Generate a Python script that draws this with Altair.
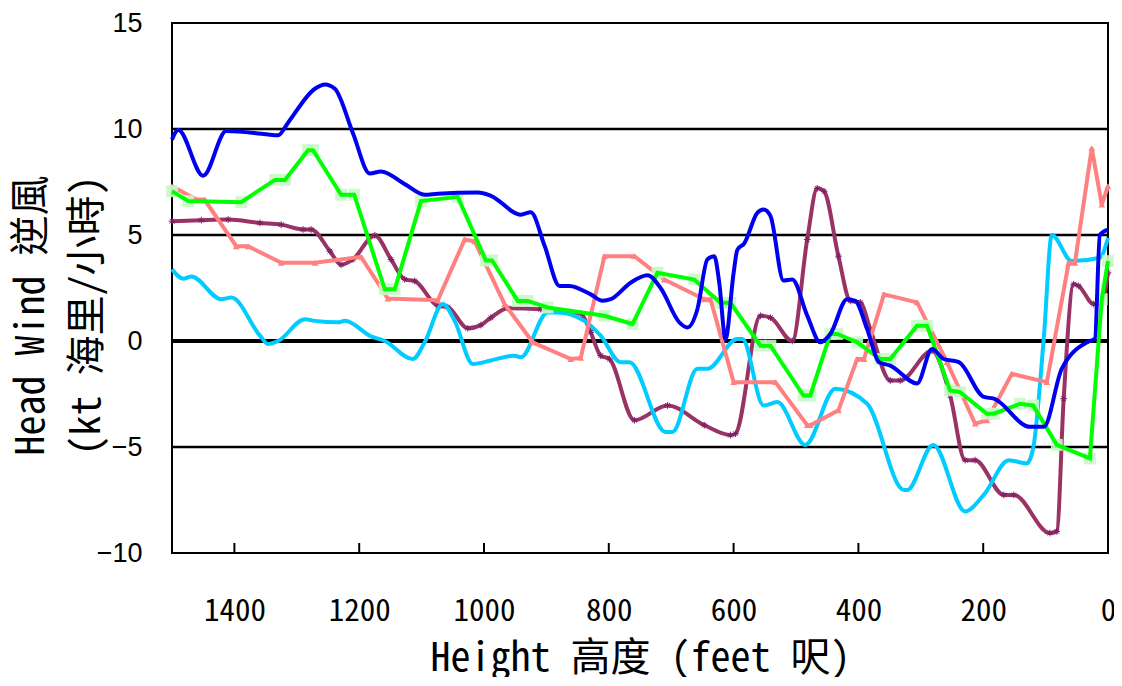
import altair as alt
import pandas as pd

# ---------------- data ----------------
blue_ft = [1500, 1490, 1450, 1413, 1349, 1330, 1314, 1271, 1255, 1239, 1210, 1183, 1165, 1127,
           1095, 1074, 1010, 989, 941, 925, 903, 879, 863, 829, 810, 797, 765, 738, 717, 687,
           674, 658, 642, 631, 623, 613, 600, 594, 583, 562, 552, 541, 520, 506, 482, 461, 445,
           418, 405, 386, 367, 349, 306, 282, 263, 239, 199, 183, 125, 103, 74, 29, 21, 13, 0]
blue_kt = [9.5, 9.95, 7.8, 9.9, 9.75, 9.7, 10.3, 11.9, 12.1, 11.9, 9.8, 7.9, 8.0, 7.4,
           6.9, 6.95, 7.0, 6.85, 5.96, 6.07, 4.5, 2.6, 2.6, 2.2, 1.9, 1.97, 2.75, 3.1, 2.5, 0.88,
           0.64, 1.5, 3.85, 4.0, 2.75, 0.1, 3.2, 4.3, 4.6, 6.04, 6.2, 5.9, 2.85, 2.9, 1.2, -0.06, 0.33,
           1.97, 1.89, 0.56, -1.0, -1.16, -2.0, -0.38, -0.85, -1.0, -2.64, -2.72, -4.05, -4.05, -1.3,
           0.0, 0.1, 5.0, 5.25]

green_ft = [1500, 1474, 1389, 1335, 1319, 1282, 1274, 1229, 1208, 1159, 1143, 1101, 1042, 997,
            987, 946, 930, 898, 807, 762, 722, 663, 621, 605, 557, 541, 488, 477, 445, 434, 402,
            365, 349, 306, 290, 253, 237, 194, 183, 141, 120, 82, 29, 10, 0]
green_kt = [7.06, 6.6, 6.55, 7.6, 7.6, 9.0, 9.0, 6.9, 6.9, 2.44, 2.44, 6.6, 6.8, 3.8,
            3.8, 1.89, 1.89, 1.58, 1.19, 0.8, 3.22, 2.9, 1.8, 1.8, -0.22, -0.22, -2.57, -2.57, 0.33,
            0.33, -0.06, -0.85, -0.85, 0.72, 0.72, -2.33, -2.41, -3.43, -3.43, -2.96, -3.04, -4.9,
            -5.54, 1.97, 3.77]

pink_ft = [1500, 1461, 1448, 1397, 1378, 1325, 1271, 1197, 1154, 1074, 1031, 1015, 967, 922,
           861, 845, 807, 759, 711, 647, 637, 600, 533, 482, 477, 432, 402, 391, 359, 306, 258,
           213, 194, 154, 98, 63, 53, 26, 10, 0]
pink_kt = [7.3, 6.67, 6.67, 4.47, 4.47, 3.69, 3.69, 3.97, 2.0, 1.92, 4.79, 4.7, 1.74, -0.06,
           -0.85, -0.8, 4.0, 4.0, 2.9, 1.97, 1.97, -1.94, -1.94, -3.97, -3.97, -3.27, -0.85, -0.85,
           2.2, 1.82, -1.0, -3.9, -3.74, -1.55, -1.94, 3.69, 3.69, 9.1, 6.43, 7.3]

purple_ft = [1500, 1453, 1410, 1359, 1325, 1290, 1277, 1247, 1229, 1210, 1175, 1149, 1127, 1111,
             1074, 1058, 1026, 1005, 989, 962, 909, 845, 829, 813, 799, 759, 706, 647, 605, 597,
             557, 541, 506, 482, 466, 455, 432, 413, 397, 381, 349, 333, 282, 253, 229, 213, 167,
             151, 93, 82, 71, 55, 47, 23, 10, 0]
purple_kt = [5.65, 5.7, 5.73, 5.57, 5.49, 5.26, 5.26, 4.24, 3.6, 3.85, 4.98, 3.85, 2.91, 2.83,
             1.66, 1.6, 0.6, 0.75, 1.1, 1.55, 1.5, 1.3, 0.41, -0.69, -0.85, -3.74, -3.04, -3.97,
             -4.44, -4.37, 1.19, 1.1, 0.0, 4.79, 7.2, 7.06, 4.0, 1.89, 1.82, 0.56, -1.86, -1.86,
             -0.46, -2.57, -5.62, -5.62, -7.26, -7.26, -9.06, -8.98, -2.72, 2.68, 2.6, 1.74, 1.82,
             3.22]

cyan_ft = [1500, 1482, 1469, 1421, 1405, 1359, 1346, 1330, 1287, 1271, 1234, 1223, 1181, 1159,
           1114, 1095, 1066, 1047, 1018, 989, 952, 941, 898, 882, 839, 813, 781, 767, 709, 698,
           658, 642, 594, 586, 552, 530, 485, 437, 386, 327, 322, 280, 229, 199, 159, 130, 120,
           103, 90, 58, 13, 0]
cyan_kt = [3.38, 2.94, 3.04, 1.97, 2.05, 0.25, -0.14, 0.0, 1.03, 0.95, 0.88, 0.95, 0.22, 0.0,
           -0.85, -0.06, 1.74, 0.95, -1.08, -0.92, -0.69, -0.77, 1.35, 1.35, 0.95, 0.25, -1.0, -1.0,
           -4.29, -4.29, -1.31, -1.31, 0.1, 0.1, -3.04, -2.88, -4.9, -2.25, -2.96, -7.03, -7.03,
           -4.9, -8.04, -7.26, -5.62, -5.77, -5.07, 0.1, 5.0, 3.77, 3.93, 4.87]

x_ticks = [1400, 1200, 1000, 800, 600, 400, 200, 0]
y_ticks = [-10, -5, 0, 5, 10, 15]
grid_kt = [-5, 5, 10]
zero_kt = [0]

# ---------------- styling ----------------
W, H = 936, 530
MONO = "Noto Sans Mono CJK TC, Noto Sans CJK TC, monospace"
SANS = "Liberation Sans, Arial, sans-serif"

xscale = alt.Scale(domain=[0, 1500], reverse=True, nice=False, zero=False)
yscale = alt.Scale(domain=[-10, 15], nice=False, zero=False)

x_axis = alt.Axis(values=x_ticks, format="d", title="Height 高度 (feet 呎)", grid=False,
                  ticks=False, tickSize=0, domain=False, labelFont=MONO, labelFontSize=31,
                  labelColor="black", labelBaseline="alphabetic", labelPadding=67,
                  labelFlush=False, labelOverlap=False, titleFont=MONO, titleFontSize=40,
                  titleFontWeight="normal", titleColor="black", titleBaseline="alphabetic",
                  titleY=117)
y_axis = alt.Axis(values=y_ticks, format="d", title=["Head Wind 逆風", "(kt 海里/小時)"],
                  grid=False, ticks=False, tickSize=0, domain=False, labelFont=SANS,
                  labelFontSize=27, labelColor="black", labelPadding=30, labelFlush=False,
                  labelOverlap=False, titleFont=MONO, titleFontSize=40,
                  titleFontWeight="normal", titleColor="black", titleAngle=270,
                  titleBaseline="alphabetic", titleAlign="center", titleLineHeight=56,
                  titleX=-129, titleY=292)


def frame(ft, kt):
    return pd.DataFrame({"ft": ft, "kt": kt})


grid_df = pd.DataFrame({"kt": grid_kt})
zero_df = pd.DataFrame({"kt": zero_kt})
tick_df = pd.DataFrame({"ft": x_ticks[:-1]})

base_axes = alt.Chart(grid_df).mark_rule(color="black", strokeWidth=2.5).encode(
    y=alt.Y("kt:Q", scale=yscale, axis=y_axis),
)
zero_rule = alt.Chart(zero_df).mark_rule(color="black", strokeWidth=4).encode(
    y=alt.Y("kt:Q", scale=yscale),
)
ticks = alt.Chart(tick_df).mark_rule(color="black", strokeWidth=2).encode(
    x=alt.X("ft:Q", scale=xscale, axis=x_axis),
    y=alt.value(H - 10),
    y2=alt.value(H),
)

X = alt.X("ft:Q", scale=xscale)
Y = alt.Y("kt:Q", scale=yscale)

ASTER = "M-1,0L1,0M0,-1L0,1M-0.7,-0.7L0.7,0.7M-0.7,0.7L0.7,-0.7"

purple_df = frame(purple_ft, purple_kt)
cyan_df = frame(cyan_ft, cyan_kt)
pink_df = frame(pink_ft, pink_kt)
green_df = frame(green_ft, green_kt)
blue_df = frame(blue_ft, blue_kt)

purple_line = alt.Chart(purple_df).mark_line(color="#993366", strokeWidth=4,
                                             interpolate="monotone").encode(x=X, y=Y)
purple_pts = alt.Chart(purple_df).mark_point(shape=ASTER, filled=False, stroke="#7a1f6a",
                                             strokeWidth=1, size=45, opacity=1).encode(x=X, y=Y)
cyan_line = alt.Chart(cyan_df).mark_line(color="#00CCFF", strokeWidth=4,
                                         interpolate="monotone").encode(x=X, y=Y)
pink_line = alt.Chart(pink_df).mark_line(color="#FF8080", strokeWidth=4).encode(x=X, y=Y)
pink_pts = alt.Chart(pink_df).mark_point(shape="triangle-up", filled=True, color="#FF8080",
                                         size=45, opacity=1).encode(x=X, y=Y)
green_pts = alt.Chart(green_df).mark_square(color="#C8F8C8", size=140, opacity=0.9).encode(x=X, y=Y)
green_line = alt.Chart(green_df).mark_line(color="#00FF00", strokeWidth=4).encode(x=X, y=Y)
blue_line = alt.Chart(blue_df).mark_line(color="#0000F0", strokeWidth=4,
                                         interpolate="monotone").encode(x=X, y=Y)

chart = alt.layer(
    base_axes, zero_rule, ticks,
    purple_line, purple_pts, cyan_line, pink_line, pink_pts, green_pts, green_line, blue_line,
).properties(
    width=W, height=H,
    padding={"left": 164, "top": 15, "right": 6, "bottom": 124},
    autosize=alt.AutoSizeParams(type="none"),
    background="white",
).configure_view(stroke="black", strokeWidth=2)

chart.save("out.html", embed_options={"renderer": "svg", "actions": False})
